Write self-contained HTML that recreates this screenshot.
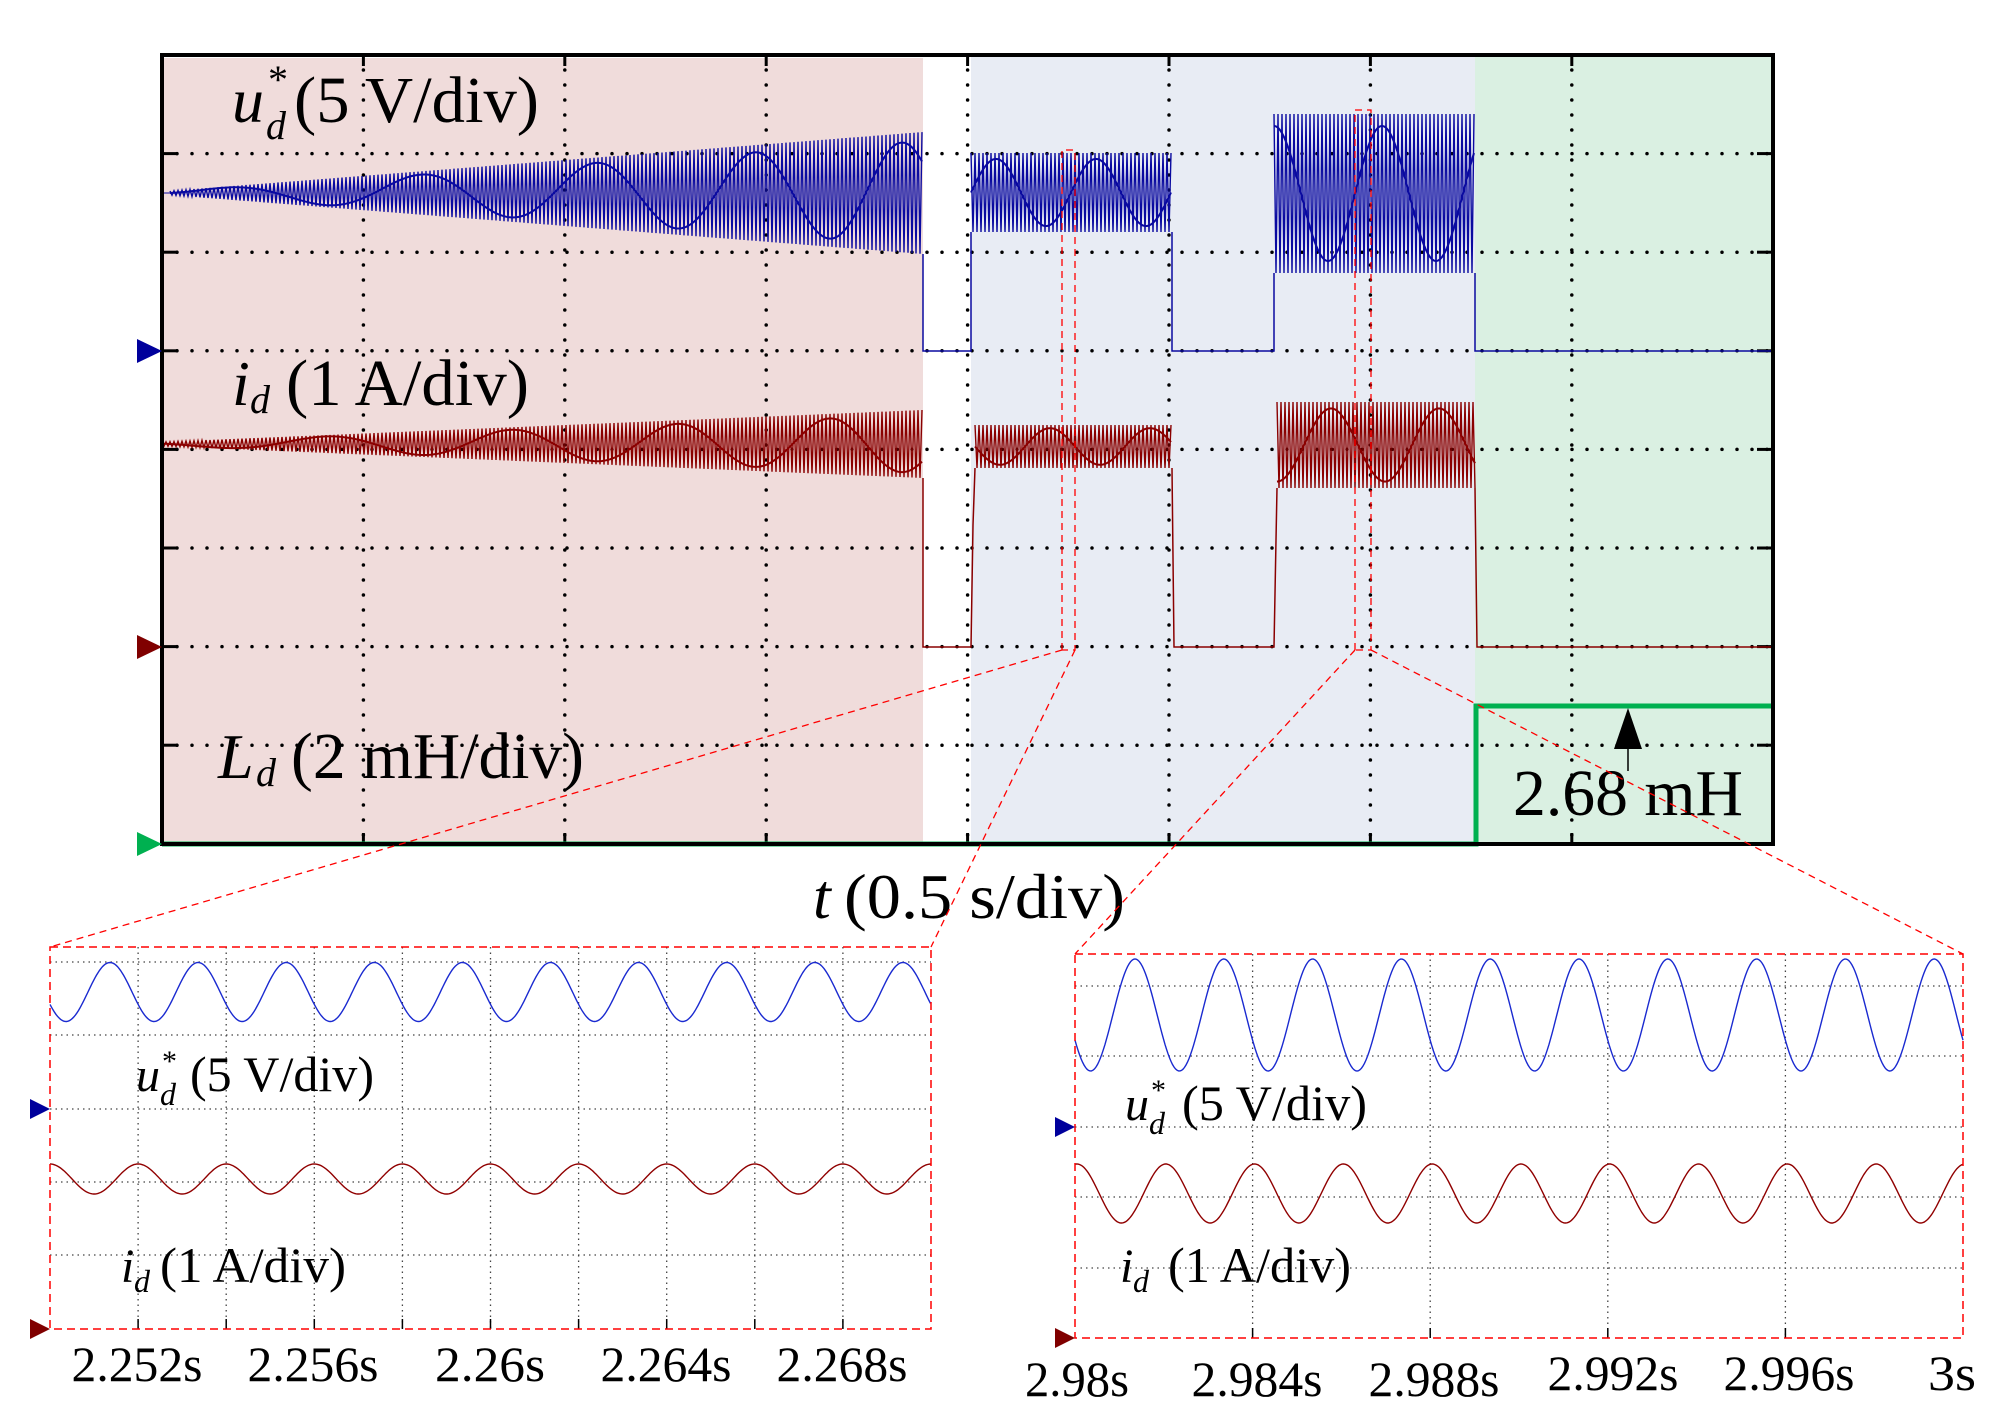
<!DOCTYPE html>
<html><head><meta charset="utf-8"><style>
html,body{margin:0;padding:0;background:#fff;}
svg{display:block;}
text{font-family:"Liberation Serif",serif;fill:#000;}
</style></head><body>
<svg id="s" width="2002" height="1419" viewBox="0 0 2002 1419" xmlns="http://www.w3.org/2000/svg">
<rect x="162" y="58" width="761" height="786" fill="#f0dcdb"/>
<rect x="971" y="55" width="504" height="789" fill="#e8ecf4"/>
<rect x="1475" y="55" width="298" height="789" fill="#daf0e2"/>
<g id="grid"></g>
<g id="traces"></g>
<polyline points="162,844 1476,844 1476,706 1773,706" fill="none" stroke="#00b050" stroke-width="5"/>
<rect x="162" y="55" width="1611" height="789" fill="none" stroke="#000" stroke-width="4"/>
<polygon points="137,339 162,351 137,363" fill="#00009c"/>
<polygon points="137,635 162,647 137,659" fill="#800000"/>
<polygon points="137,832 162,844 137,856" fill="#00b050"/>
<line x1="1628" y1="745" x2="1628" y2="771" stroke="#000" stroke-width="1.5"/>
<polygon points="1628,708 1614,749 1642,749" fill="#000"/>
<text x="1513" y="815" font-size="66" textLength="230" lengthAdjust="spacingAndGlyphs">2.68 mH</text>
<text x="232" y="122" font-size="64" font-style="italic">u</text>
<text x="266" y="139" font-size="40" font-style="italic">d</text>
<text x="268" y="93" font-size="40">*</text>
<text x="294" y="122" font-size="66" textLength="245" lengthAdjust="spacingAndGlyphs">(5 V/div)</text>
<text x="232" y="405" font-size="64" font-style="italic">i</text>
<text x="250" y="413" font-size="40" font-style="italic">d</text>
<text x="286" y="405" font-size="66" textLength="243" lengthAdjust="spacingAndGlyphs">(1 A/div)</text>
<text x="218" y="778" font-size="64" font-style="italic">L</text>
<text x="256" y="786" font-size="40" font-style="italic">d</text>
<text x="291" y="778" font-size="66" textLength="293" lengthAdjust="spacingAndGlyphs">(2 mH/div)</text>
<text x="813" y="918" font-size="64" font-style="italic">t</text>
<text x="844" y="918" font-size="64" textLength="281" lengthAdjust="spacingAndGlyphs">(0.5 s/div)</text>
<g fill="none" stroke="#ff0000" stroke-width="1.3" stroke-dasharray="7 5">
<polyline points="1062,650 1062,150 1075,150 1075,650 1062,650"/>
<polyline points="1355,650 1355,110 1371,110 1371,650 1355,650"/>
<line x1="1062" y1="650" x2="50" y2="947"/>
<line x1="1075" y1="650" x2="931" y2="947"/>
<line x1="1355" y1="650" x2="1075" y2="954"/>
<line x1="1371" y1="650" x2="1963" y2="954"/>
</g>
<g id="insets"></g>
<polygon points="30,1099 50,1109 30,1119" fill="#00009c"/>
<polygon points="30,1319 50,1329 30,1339" fill="#800000"/>
<polygon points="1055,1117 1075,1127 1055,1137" fill="#00009c"/>
<polygon points="1055,1328 1075,1338 1055,1348" fill="#800000"/>
<text x="136" y="1091" font-size="48" font-style="italic">u</text>
<text x="160" y="1105" font-size="32" font-style="italic">d</text>
<text x="162" y="1071" font-size="30">*</text>
<text x="190" y="1091" font-size="50" textLength="184" lengthAdjust="spacingAndGlyphs">(5 V/div)</text>
<text x="121" y="1282" font-size="48" font-style="italic">i</text>
<text x="134" y="1292" font-size="32" font-style="italic">d</text>
<text x="160" y="1282" font-size="50" textLength="186" lengthAdjust="spacingAndGlyphs">(1 A/div)</text>
<text x="1125" y="1120" font-size="48" font-style="italic">u</text>
<text x="1149" y="1134" font-size="32" font-style="italic">d</text>
<text x="1151" y="1100" font-size="30">*</text>
<text x="1182" y="1120" font-size="50" textLength="185" lengthAdjust="spacingAndGlyphs">(5 V/div)</text>
<text x="1120" y="1282" font-size="48" font-style="italic">i</text>
<text x="1133" y="1292" font-size="32" font-style="italic">d</text>
<text x="1168" y="1282" font-size="50" textLength="183" lengthAdjust="spacingAndGlyphs">(1 A/div)</text>
<g font-size="50" text-anchor="middle">
<text x="137" y="1381" textLength="131" lengthAdjust="spacingAndGlyphs">2.252s</text>
<text x="313" y="1381" textLength="131" lengthAdjust="spacingAndGlyphs">2.256s</text>
<text x="490" y="1381" textLength="110" lengthAdjust="spacingAndGlyphs">2.26s</text>
<text x="666" y="1381" textLength="131" lengthAdjust="spacingAndGlyphs">2.264s</text>
<text x="842" y="1381" textLength="131" lengthAdjust="spacingAndGlyphs">2.268s</text>
<text x="1077" y="1396" textLength="104" lengthAdjust="spacingAndGlyphs">2.98s</text>
<text x="1257" y="1396" textLength="131" lengthAdjust="spacingAndGlyphs">2.984s</text>
<text x="1434" y="1396" textLength="131" lengthAdjust="spacingAndGlyphs">2.988s</text>
<text x="1613" y="1390" textLength="131" lengthAdjust="spacingAndGlyphs">2.992s</text>
<text x="1789" y="1390" textLength="131" lengthAdjust="spacingAndGlyphs">2.996s</text>
<text x="1952" y="1390" textLength="48" lengthAdjust="spacingAndGlyphs">3s</text>
</g>
</svg>
<script>
var NS="http://www.w3.org/2000/svg";
function el(p,t,a){var e=document.createElementNS(NS,t);for(var k in a)e.setAttribute(k,a[k]);p.appendChild(e);return e;}
var g=document.getElementById('grid');
var gx=[],gy=[];
for(var i=0;i<=8;i++){gx.push(162+i*201.4);gy.push(55+i*98.6);}
for(i=1;i<8;i++){
 el(g,'line',{x1:gx[i],y1:55,x2:gx[i],y2:844,stroke:'#000','stroke-width':3.5,'stroke-dasharray':'0 15','stroke-linecap':'round'});
 el(g,'line',{x1:162,y1:gy[i],x2:1773,y2:gy[i],stroke:'#000','stroke-width':3.5,'stroke-dasharray':'0 15','stroke-linecap':'round'});
 el(g,'line',{x1:gx[i],y1:55,x2:gx[i],y2:66,stroke:'#000','stroke-width':3});
 el(g,'line',{x1:gx[i],y1:833,x2:gx[i],y2:844,stroke:'#000','stroke-width':3});
 el(g,'line',{x1:162,y1:gy[i],x2:178,y2:gy[i],stroke:'#000','stroke-width':3});
 el(g,'line',{x1:1757,y1:gy[i],x2:1773,y2:gy[i],stroke:'#000','stroke-width':3});
}
var tr=document.getElementById('traces');
function band(x0,x1,ctr,half,per,col){
 var d='',up=true;
 for(var x=x0;x<=x1;x+=2){var c=ctr(x),h=half(x);d+=(d?' L':'M')+x.toFixed(1)+' '+(up?c-h:c+h).toFixed(1);up=!up;}
 el(tr,'path',{d:d,fill:'none',stroke:col,'stroke-width':1.4});
 var p='';for(x=x0;x<=x1;x+=2){var c2=ctr(x),h2=half(x);p+=(p?' L':'M')+x+' '+(c2-0.85*h2*Math.sin(2*Math.PI*per(x))).toFixed(1);}
 el(tr,'path',{d:p,fill:'none',stroke:col,'stroke-width':2});
}
function chirp(x){var u=x-170;return u/220+u*u/(2*761*380);}
band(170,923,function(){return 193},function(x){return 2+59*(x-170)/753},chirp,'#0a0aa0');
band(971,1172,function(){return 192.5},function(){return 39.5},function(x){return (x-971)/100},'#0a0aa0');
band(1274,1475,function(){return 193.5},function(){return 79.5},function(x){return (x-1274)/108+0.25},'#0a0aa0');
el(tr,'polyline',{points:'162,193 170,193',stroke:'#0a0aa0',fill:'none'});
el(tr,'polyline',{points:'923,254 923,351 971,351 971,232',stroke:'#0a0aa0',fill:'none','stroke-width':1.5});
el(tr,'polyline',{points:'1172,232 1172,351 1274,351 1274,273',stroke:'#0a0aa0',fill:'none','stroke-width':1.5});
el(tr,'polyline',{points:'1475,273 1475,351 1773,351',stroke:'#0a0aa0',fill:'none','stroke-width':1.5});
band(162,923,function(){return 444},function(x){return 2+32*(x-162)/761},function(x){return chirp(x)+0.5},'#8a0000');
band(975,1172,function(){return 446.5},function(){return 21.5},function(x){return (x-975)/100+0.5},'#8a0000');
band(1277,1475,function(){return 445},function(){return 43},function(x){return (x-1277)/108+0.75},'#8a0000');
el(tr,'polyline',{points:'923,478 923,647 971,647 973,525 975,468',stroke:'#8a0000',fill:'none','stroke-width':1.5});
el(tr,'polyline',{points:'1172,468 1174,647 1274,647 1276,540 1277,488',stroke:'#8a0000',fill:'none','stroke-width':1.5});
el(tr,'polyline',{points:'1475,488 1477,647 1773,647',stroke:'#8a0000',fill:'none','stroke-width':1.5});
var ins=document.getElementById('insets');
function inset(x0,x1,y0,y1,vx,hy,bw,rw){
 for(var i=0;i<vx.length;i++)el(ins,'line',{x1:vx[i],y1:y0,x2:vx[i],y2:y1,stroke:'#444','stroke-width':1.3,'stroke-dasharray':'1.5 4'});
 for(i=0;i<hy.length;i++)el(ins,'line',{x1:x0,y1:hy[i],x2:x1,y2:hy[i],stroke:'#444','stroke-width':1.3,'stroke-dasharray':'1.5 4'});
 for(i=0;i<vx.length;i++)el(ins,'line',{x1:vx[i],y1:y1-10,x2:vx[i],y2:y1,stroke:'#000','stroke-width':1.5});
 var d='';for(var x=x0;x<=x1;x+=1.5){d+=(d?' L':'M')+x.toFixed(1)+' '+bw(x).toFixed(1);}
 el(ins,'path',{d:d,fill:'none',stroke:'#1a2ad0','stroke-width':1.4});
 d='';for(x=x0;x<=x1;x+=1.5){d+=(d?' L':'M')+x.toFixed(1)+' '+rw(x).toFixed(1);}
 el(ins,'path',{d:d,fill:'none',stroke:'#900000','stroke-width':1.4});
 el(ins,'rect',{x:x0,y:y0,width:x1-x0,height:y1-y0,fill:'none',stroke:'#ff0000','stroke-width':1.5,'stroke-dasharray':'8 5'});
}
var v1=[],v2=[];for(var k=1;k<10;k++)v1.push(50+k*88.1);for(k=1;k<5;k++)v2.push(1075+k*177.6);
var P1=88.1,P2=88.8;
inset(50,931,947,1329,v1,[962,1035,1109,1182,1255],
 function(x){return 992-29.5*Math.cos(2*Math.PI*(x-110)/P1)},
 function(x){return 1179-15*Math.cos(2*Math.PI*(x-50)/P1)});
inset(1075,1963,954,1338,v2,[986,1056,1127,1197,1268],
 function(x){return 1015-56*Math.cos(2*Math.PI*(x-1135)/P2)},
 function(x){return 1193.5-29.5*Math.cos(2*Math.PI*(x-1077)/P2)});
</script>
</body></html>
